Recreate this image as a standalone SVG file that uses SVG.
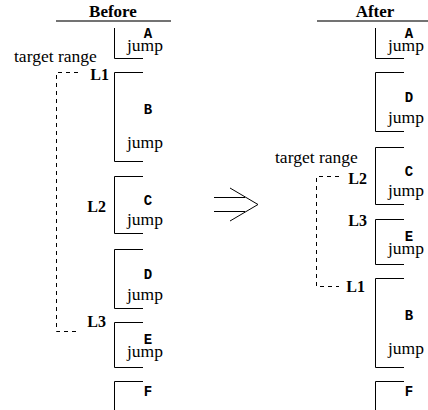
<svg xmlns="http://www.w3.org/2000/svg" width="428" height="410" viewBox="0 0 428 410">
<style>
.blk{fill:none;stroke:#000;stroke-width:1}
.rule{stroke:#444;stroke-width:1.5}
.dash{fill:none;stroke:#000;stroke-width:1;stroke-dasharray:4 4}
.ttl{font-family:"Liberation Serif",serif;font-weight:bold;font-size:17px;text-anchor:middle}
.lbl{font-family:"Liberation Serif",serif;font-weight:bold;font-size:16px}
.txt{font-family:"Liberation Serif",serif;font-size:17.5px}
.code{font-family:"Liberation Mono",monospace;font-weight:bold;font-size:14px;text-anchor:middle}
</style>
<rect width="428" height="410" fill="#fff"/>
<g id="before-title"><text class="ttl" x="113" y="17">Before</text><line class="rule" x1="56" y1="21" x2="171" y2="21"/></g>
<g id="after-title"><text class="ttl" x="375" y="17">After</text><line class="rule" x1="317" y1="21" x2="428" y2="21"/></g>

<g id="b-A"><polyline class="blk" points="114.5,28 114.5,58.5 143,58.5"/><text class="code" x="148" y="38">A</text><text class="txt" x="127" y="51">jump</text></g>
<g id="b-B"><polyline class="blk" points="143,72.5 114.5,72.5 114.5,161.5 143,161.5"/><text class="code" x="148" y="114">B</text><text class="txt" x="127" y="148">jump</text></g>
<g id="b-C"><polyline class="blk" points="143,176.5 114.5,176.5 114.5,233.5 143,233.5"/><text class="code" x="148" y="205">C</text><text class="txt" x="127" y="225">jump</text></g>
<g id="b-D"><polyline class="blk" points="143,249.5 114.5,249.5 114.5,308.5 143,308.5"/><text class="code" x="148" y="279">D</text><text class="txt" x="127" y="300">jump</text></g>
<g id="b-E"><polyline class="blk" points="143,322.5 114.5,322.5 114.5,367.5 143,367.5"/><text class="code" x="148" y="344">E</text><text class="txt" x="127" y="357">jump</text></g>
<g id="b-F"><polyline class="blk" points="143,381.5 114.5,381.5 114.5,410"/><text class="code" x="148" y="396">F</text></g>
<g id="b-labels"><text class="lbl" x="109" y="80" text-anchor="end">L1</text><text class="lbl" x="106" y="212" text-anchor="end">L2</text><text class="lbl" x="106" y="327" text-anchor="end">L3</text><text class="txt" x="14" y="62">target range</text></g>

<g id="a-A"><polyline class="blk" points="375.5,28 375.5,58.5 404,58.5"/><text class="code" x="409" y="38">A</text><text class="txt" x="388" y="51">jump</text></g>
<g id="a-D"><polyline class="blk" points="404,72.5 375.5,72.5 375.5,131.5 404,131.5"/><text class="code" x="409" y="102">D</text><text class="txt" x="388" y="123">jump</text></g>
<g id="a-C"><polyline class="blk" points="404,147.5 375.5,147.5 375.5,204.5 404,204.5"/><text class="code" x="409" y="176">C</text><text class="txt" x="388" y="196">jump</text></g>
<g id="a-E"><polyline class="blk" points="404,219.5 375.5,219.5 375.5,264.5 404,264.5"/><text class="code" x="409" y="241">E</text><text class="txt" x="388" y="254">jump</text></g>
<g id="a-B"><polyline class="blk" points="404,278.5 375.5,278.5 375.5,367.5 404,367.5"/><text class="code" x="409" y="320">B</text><text class="txt" x="388" y="354">jump</text></g>
<g id="a-F"><polyline class="blk" points="404,381.5 375.5,381.5 375.5,410"/><text class="code" x="409" y="396">F</text></g>
<g id="a-labels"><text class="lbl" x="367" y="184" text-anchor="end">L2</text><text class="lbl" x="367" y="226" text-anchor="end">L3</text><text class="lbl" x="365" y="292" text-anchor="end">L1</text><text class="txt" x="275" y="163">target range</text></g>

<g id="connectors">
<polyline class="dash" points="78,72.5 56.5,72.5 56.5,331.5 78,331.5"/>
<polyline class="dash" points="339,176.5 316.5,176.5 316.5,286.5 339,286.5"/>
<g id="arrow" fill="none" stroke="#000" stroke-width="1">
<line x1="214" y1="197.5" x2="245" y2="197.5"/><line x1="214" y1="211.5" x2="245" y2="211.5"/>
<polyline points="230,188 258,204.5 230,221"/>
</g>
</g>
</svg>
